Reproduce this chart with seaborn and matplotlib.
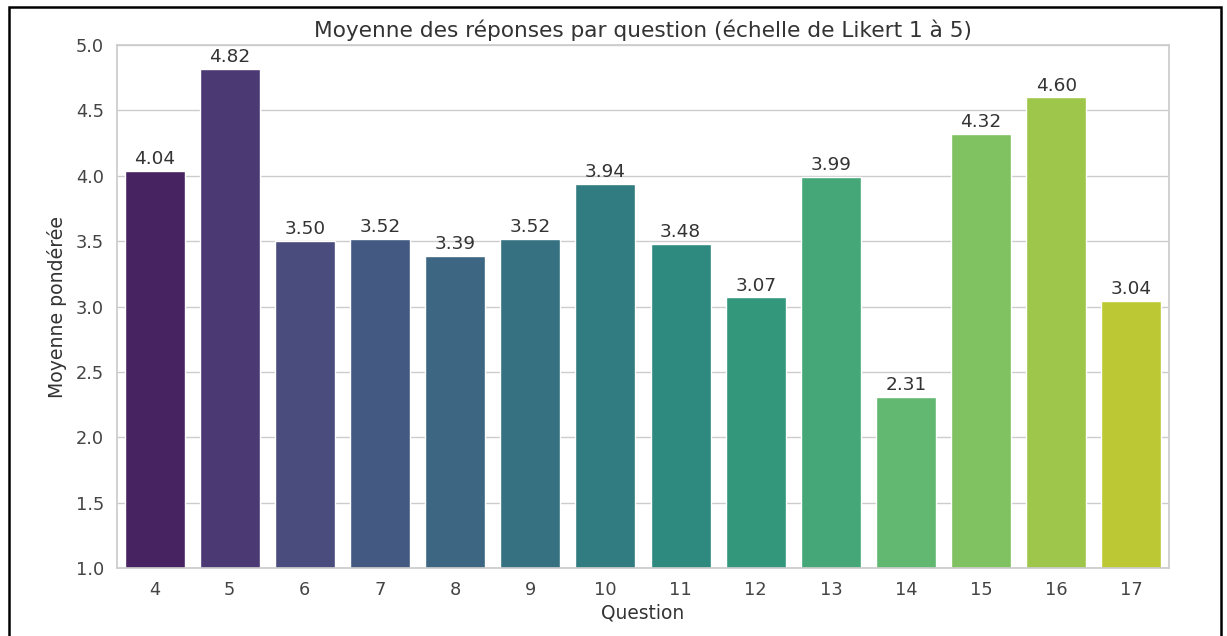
import matplotlib
matplotlib.use("Agg")
import matplotlib.pyplot as plt
from matplotlib.patches import Rectangle
import seaborn as sns
import pandas as pd

questions = ["4", "5", "6", "7", "8", "9", "10", "11", "12", "13", "14", "15", "16", "17"]
moyennes = [4.04, 4.82, 3.50, 3.52, 3.39, 3.52, 3.94, 3.48, 3.07, 3.99, 2.31, 4.32, 4.60, 3.04]

df = pd.DataFrame({"Question": questions, "Moyenne": moyennes})

sns.set_theme(style="whitegrid")
plt.rcParams["font.family"] = ["DejaVu Sans"]

fig = plt.figure(figsize=(12.27, 6.36), dpi=100)
ax = fig.add_axes([117 / 1227, 1 - 568 / 636, (1169 - 117) / 1227, (568 - 45) / 636])

sns.barplot(data=df, x="Question", y="Moyenne", hue="Question",
            palette="viridis", legend=False, ax=ax)

for container in ax.containers:
    ax.bar_label(container, fmt="%.2f", padding=2, fontsize=13.3, color="#333333")

ax.set_ylim(1.0, 5.0)
ax.set_title("Moyenne des réponses par question (échelle de Likert 1 à 5)",
             fontsize=15.6, color="#333333", pad=6)
ax.set_xlabel("Question", fontsize=13.4, color="#333333", labelpad=3)
ax.set_ylabel("Moyenne pondérée", fontsize=13.6, color="#333333", labelpad=6)
ax.tick_params(axis="both", labelsize=12.8, colors="#444444")

# frame around the whole figure
fig.patches.append(Rectangle((9 / 1227, -0.05), (1221 - 9) / 1227, 1.05 - 7 / 636,
                             transform=fig.transFigure, fill=False,
                             edgecolor="black", linewidth=1.8))

fig.savefig("out.png", dpi=100)
